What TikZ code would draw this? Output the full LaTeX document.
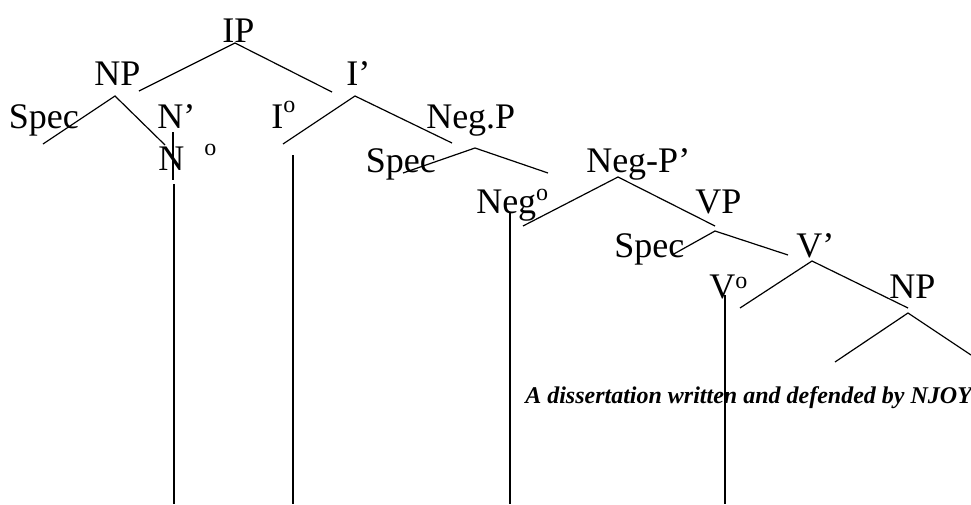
\documentclass[tikz,border=0pt]{standalone}
\usepackage{fontspec}
\setmainfont{Liberation Serif}
\newcommand{\degsup}[1]{\raisebox{#1}{\fontsize{18}{20}\selectfont o}}

\begin{document}
\begin{tikzpicture}[x=0.75pt,y=-0.75pt,
    lbl/.style={inner sep=0pt, anchor=base west, font=\fontsize{27}{32}\selectfont},
    branch/.style={line width=0.9pt}]

    \useasboundingbox (0,0) rectangle (971,504);

    \node[lbl] (ip)    at (222,42)  {IP};
    \node[lbl] (np)    at (94,85)   {NP};
    \node[lbl] (specA) at (8.5,128) {Spec};
    \node[lbl] (nbar)  at (157,128) {N'};
    \node[lbl] (n)     at (158,170) {N\hspace{15pt}\degsup{11pt}};
    \node[lbl] (i)     at (271,128) {I\degsup{12pt}};
    \node[lbl] (ibar)  at (346,85)  {I'};
    \node[lbl] (negp)  at (426,128) {Neg.P};
    \node[lbl] (specB) at (365.5,172) {Spec};
    \node[lbl] (neg)   at (476,213) {Neg\degsup{9.75pt}};
    \node[lbl] (negbar) at (586,172) {Neg-P'};
    \node[lbl] (vp)    at (695,213) {VP};
    \node[lbl] (specC) at (614,257) {Spec};
    \node[lbl] (vbar)  at (796,257) {V'};
    \node[lbl] (v)     at (709,298) {V\degsup{7.5pt}};
    \node[lbl] (npB)   at (889,298) {NP};

    \node[inner sep=0pt, anchor=base west, font=\fontsize{18}{22}\selectfont\bfseries\itshape] (cap)
        at (525,403) {A dissertation written and defended by NJOY};

    \coordinate (ipt) at (235,43);  \coordinate (ipl) at (139,91);  \coordinate (ipr) at (332,92);
    \coordinate (npt) at (115,96);  \coordinate (npl) at (43,144);  \coordinate (npr) at (165,145);
    \coordinate (ibt) at (355,96);  \coordinate (ibl) at (283,144); \coordinate (ibr) at (452,143);
    \coordinate (ngt) at (475,148); \coordinate (ngl) at (403,173); \coordinate (ngr) at (548,173);
    \coordinate (nbt) at (618,177); \coordinate (nbl) at (523,226); \coordinate (nbr) at (715,226);
    \coordinate (vpt) at (715,231); \coordinate (vpl) at (672,255); \coordinate (vpr) at (788,255);
    \coordinate (vbt) at (812,261); \coordinate (vbl) at (740,308); \coordinate (vbr) at (908,308);
    \coordinate (obt) at (908,313); \coordinate (obl) at (835,362); \coordinate (obr) at (971,355);

    \foreach \t in {ip,np,ib,ng,nb,vp,vb,ob} {
        \draw[branch] (\t l) -- (\t t) -- (\t r);
    }

    \coordinate (nstub) at (173,132);
    \coordinate (nstubend) at (173,180);
    \draw[branch] (nstub) -- (nstubend);

    \foreach \nm/\x/\y in {n/174/184, i/293/155, neg/510/212, v/725/295} {
        \coordinate (\nm top) at (\x,\y);
        \coordinate (\nm bot) at (\x,504);
        \draw[branch] (\nm top) -- (\nm bot);
    }

\end{tikzpicture}
\end{document}
